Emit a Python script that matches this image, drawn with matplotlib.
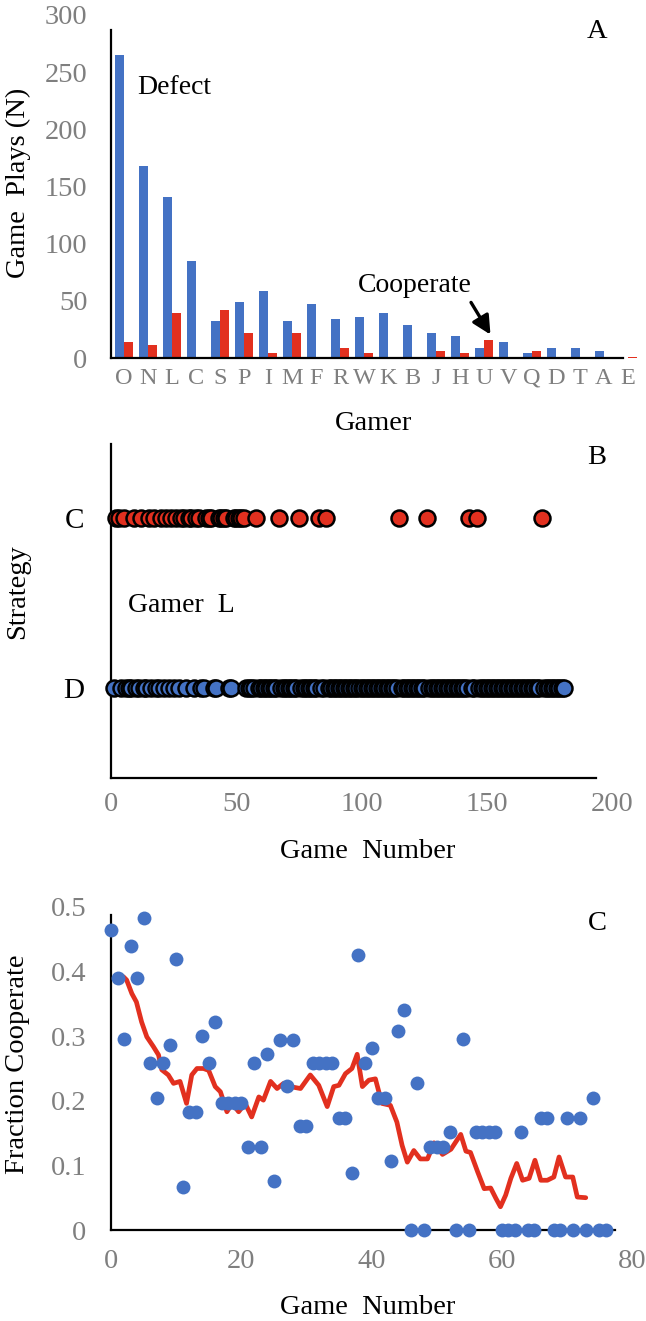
import numpy as np
import matplotlib.pyplot as plt

plt.rcParams['font.family'] = ['Liberation Serif', 'DejaVu Serif']

W, H = 646, 1321
blue = '#4472C4'
red = '#E2301F'
grey = '#7F7F7F'

# ---- panel A: plays per gamer ----
gamers = ['O', 'N', 'L', 'C', 'S', 'P', 'I', 'M', 'F', 'R', 'W',
          'K', 'B', 'J', 'H', 'U', 'V', 'Q', 'D', 'T', 'A', 'E']
defect_plays = [265, 168, 141, 85, 32, 49, 59, 32, 47, 34, 36,
                39, 29, 22, 19, 9, 14, 4, 9, 9, 6, 0]
coop_plays = [14, 11, 39, 0, 42, 22, 4, 22, 0, 9, 4,
              1, 1, 6, 4, 16, 0, 6, 1, 1, 0, 1]

# ---- panel B: gamer L, game by game ----
n_games_L = 181
coop_games_L = [2, 3, 5, 9, 12, 15, 17, 20, 22, 24, 26, 28, 29, 31, 32, 34, 35,
                38, 39, 40, 43, 44, 45, 46, 49, 50, 51, 52, 53, 58, 67, 75, 83,
                86, 115, 126, 143, 146, 172]
defect_games_L = [g for g in range(1, n_games_L + 1) if g not in coop_games_L]

# ---- panel C: fraction cooperate per game number ----
frac_coop = [0.465, 0.39, 0.295, 0.439, 0.39, 0.483, 0.259, 0.205, 0.259, 0.286,
             0.42, 0.066, 0.183, 0.183, 0.30, 0.259, 0.322, 0.196, 0.196, 0.196,
             0.196, 0.129, 0.259, 0.129, 0.272, 0.076, 0.294, 0.223, 0.294, 0.161,
             0.161, 0.259, 0.259, 0.259, 0.259, 0.174, 0.174, 0.089, 0.425, 0.259,
             0.281, 0.205, 0.205, 0.107, 0.308, 0.34, 0.0, 0.227, 0.0, 0.129,
             0.129, 0.129, 0.152, 0.0, 0.295, 0.0, 0.152, 0.152, 0.152, 0.152,
             0.0, 0.0, 0.0, 0.152, 0.0, 0.0, 0.174, 0.174, 0.0, 0.0,
             0.174, 0.0, 0.174, 0.0, 0.205, 0.0, 0.0]
# running average curve (red)
avg_x = [1.9, 2.4, 3.2, 3.9, 4.7, 5.5, 6.5, 7.3, 7.8, 8.8, 9.6, 10.6, 11.6, 12.4,
         13.2, 14.2, 15.0, 16.0, 16.8, 17.8, 18.6, 19.6, 20.6, 21.6, 22.7, 23.4,
         24.5, 25.5, 26.5, 27.5, 29.1, 30.6, 31.9, 33.2, 34.2, 35.0, 36.0, 37.0,
         37.8, 38.6, 39.6, 40.6, 41.6, 42.9, 43.9, 44.7, 45.5, 46.5, 47.5, 48.6,
         49.6, 50.9, 52.2, 53.7, 54.5, 55.2, 56.3, 57.3, 58.3, 59.1, 59.8, 60.6,
         61.4, 62.3, 63.2, 64.2, 65.1, 66.0, 67.0, 68.0, 68.8, 69.8, 70.9, 71.6, 72.9]
avg_y = [0.392, 0.387, 0.366, 0.353, 0.322, 0.299, 0.284, 0.271, 0.248, 0.240,
         0.227, 0.230, 0.196, 0.240, 0.250, 0.250, 0.247, 0.222, 0.214, 0.183,
         0.196, 0.183, 0.196, 0.175, 0.206, 0.201, 0.230, 0.219, 0.227, 0.222,
         0.219, 0.240, 0.224, 0.191, 0.222, 0.224, 0.242, 0.250, 0.272, 0.222,
         0.232, 0.234, 0.196, 0.193, 0.167, 0.131, 0.105, 0.123, 0.110, 0.110,
         0.135, 0.117, 0.125, 0.148, 0.122, 0.120, 0.090, 0.064, 0.065, 0.049,
         0.036, 0.054, 0.080, 0.103, 0.077, 0.080, 0.108, 0.077, 0.077, 0.082,
         0.113, 0.082, 0.082, 0.051, 0.050]

fig = plt.figure(figsize=(W / 100, H / 100), dpi=100)


def axes_px(left, top, right, bottom):
    return fig.add_axes([left / W, 1 - bottom / H, (right - left) / W, (bottom - top) / H])


def text_px(x, y, s, **kw):
    kw.setdefault('fontsize', 20.5)
    kw.setdefault('va', 'center')
    fig.text(x / W, 1 - y / H, s, **kw)


def style(ax):
    for side in ['top', 'right']:
        ax.spines[side].set_visible(False)
    for side in ['left', 'bottom']:
        ax.spines[side].set_linewidth(1.6)
        ax.spines[side].set_color('black')
    ax.tick_params(length=0)


# Panel A
axA = axes_px(111, 15, 640, 358)
style(axA)
idx = np.arange(len(gamers))
w = 0.36
axA.bar(idx - w / 2, defect_plays, width=w, color=blue)
axA.bar(idx + w / 2, coop_plays, width=w, color=red)
axA.set_xlim(-0.54, 21.5)
axA.set_ylim(0, 300)
axA.spines['left'].set_bounds(0, 287)
axA.spines['bottom'].set_bounds(-0.54, 20.8)
axA.set_xticks(idx)
axA.set_xticklabels(gamers, fontsize=17.5, color=grey)
axA.set_yticks(np.arange(0, 301, 50))
axA.set_yticklabels([str(v) for v in range(0, 301, 50)], fontsize=20.5, color=grey)
axA.tick_params(axis='x', pad=7)
axA.tick_params(axis='y', pad=17)
axA.annotate('', xy=(15.33, 18.4), xytext=(14.4, 50.7),
             arrowprops=dict(arrowstyle='-|>', color='black', lw=2.4, mutation_scale=28))
text_px(137, 87, 'Defect', fontsize=20)
text_px(358, 285, 'Cooperate', fontsize=20)
text_px(597, 32, 'A', ha='center')
text_px(18, 183, 'Game  Plays (N)', rotation=90, ha='center')
text_px(374, 424, 'Gamer', ha='center')

# Panel B
axB = axes_px(111, 444, 612, 778)
style(axB)
axB.plot(coop_games_L, np.ones(len(coop_games_L)), 'o', ms=11.5, mfc=red, mec='black',
         mew=1.8, ls='', clip_on=False, zorder=3)
axB.plot(defect_games_L, np.zeros(len(defect_games_L)), 'o', ms=11.5, mfc=blue, mec='black',
         mew=1.8, ls='', clip_on=False, zorder=3)
axB.set_xlim(0, 200)
axB.set_ylim(-0.53, 1.435)
axB.spines['bottom'].set_bounds(0, 193.6)
axB.set_xticks(np.arange(0, 201, 50))
axB.set_xticklabels([str(v) for v in range(0, 201, 50)], fontsize=20.5, color=grey)
axB.set_yticks([0, 1])
axB.set_yticklabels(['D', 'C'], fontsize=21, color='black')
axB.tick_params(axis='x', pad=10)
axB.tick_params(axis='y', pad=19)
text_px(128, 605, 'Gamer  L', fontsize=20)
text_px(597, 458, 'B', ha='center')
text_px(18, 592, 'Strategy', rotation=90, ha='center')
text_px(368, 852, 'Game  Number', ha='center')

# Panel C
axC = axes_px(111, 907, 632, 1230)
style(axC)
axC.plot(avg_x, avg_y, color=red, lw=3.4, solid_joinstyle='round', solid_capstyle='round',
         zorder=2)
axC.plot(np.arange(len(frac_coop)), frac_coop, 'o', ms=10, color=blue, mec='none', ls='',
         clip_on=False, zorder=3)
axC.set_xlim(0, 80)
axC.set_ylim(0, 0.5)
axC.spines['left'].set_bounds(0, 0.488)
axC.spines['bottom'].set_bounds(0, 77.4)
axC.set_xticks(np.arange(0, 81, 20))
axC.set_xticklabels([str(v) for v in range(0, 81, 20)], fontsize=20.5, color=grey)
axC.set_yticks(np.arange(0, 0.51, 0.1))
axC.set_yticklabels(['0', '0.1', '0.2', '0.3', '0.4', '0.5'], fontsize=20.5, color=grey)
axC.tick_params(axis='x', pad=14)
axC.tick_params(axis='y', pad=18)
text_px(597, 923, 'C', ha='center')
text_px(18, 1064, 'Fraction Cooperate', rotation=90, ha='center')
text_px(368, 1308, 'Game  Number', ha='center')

fig.savefig('out.png', dpi=100)
